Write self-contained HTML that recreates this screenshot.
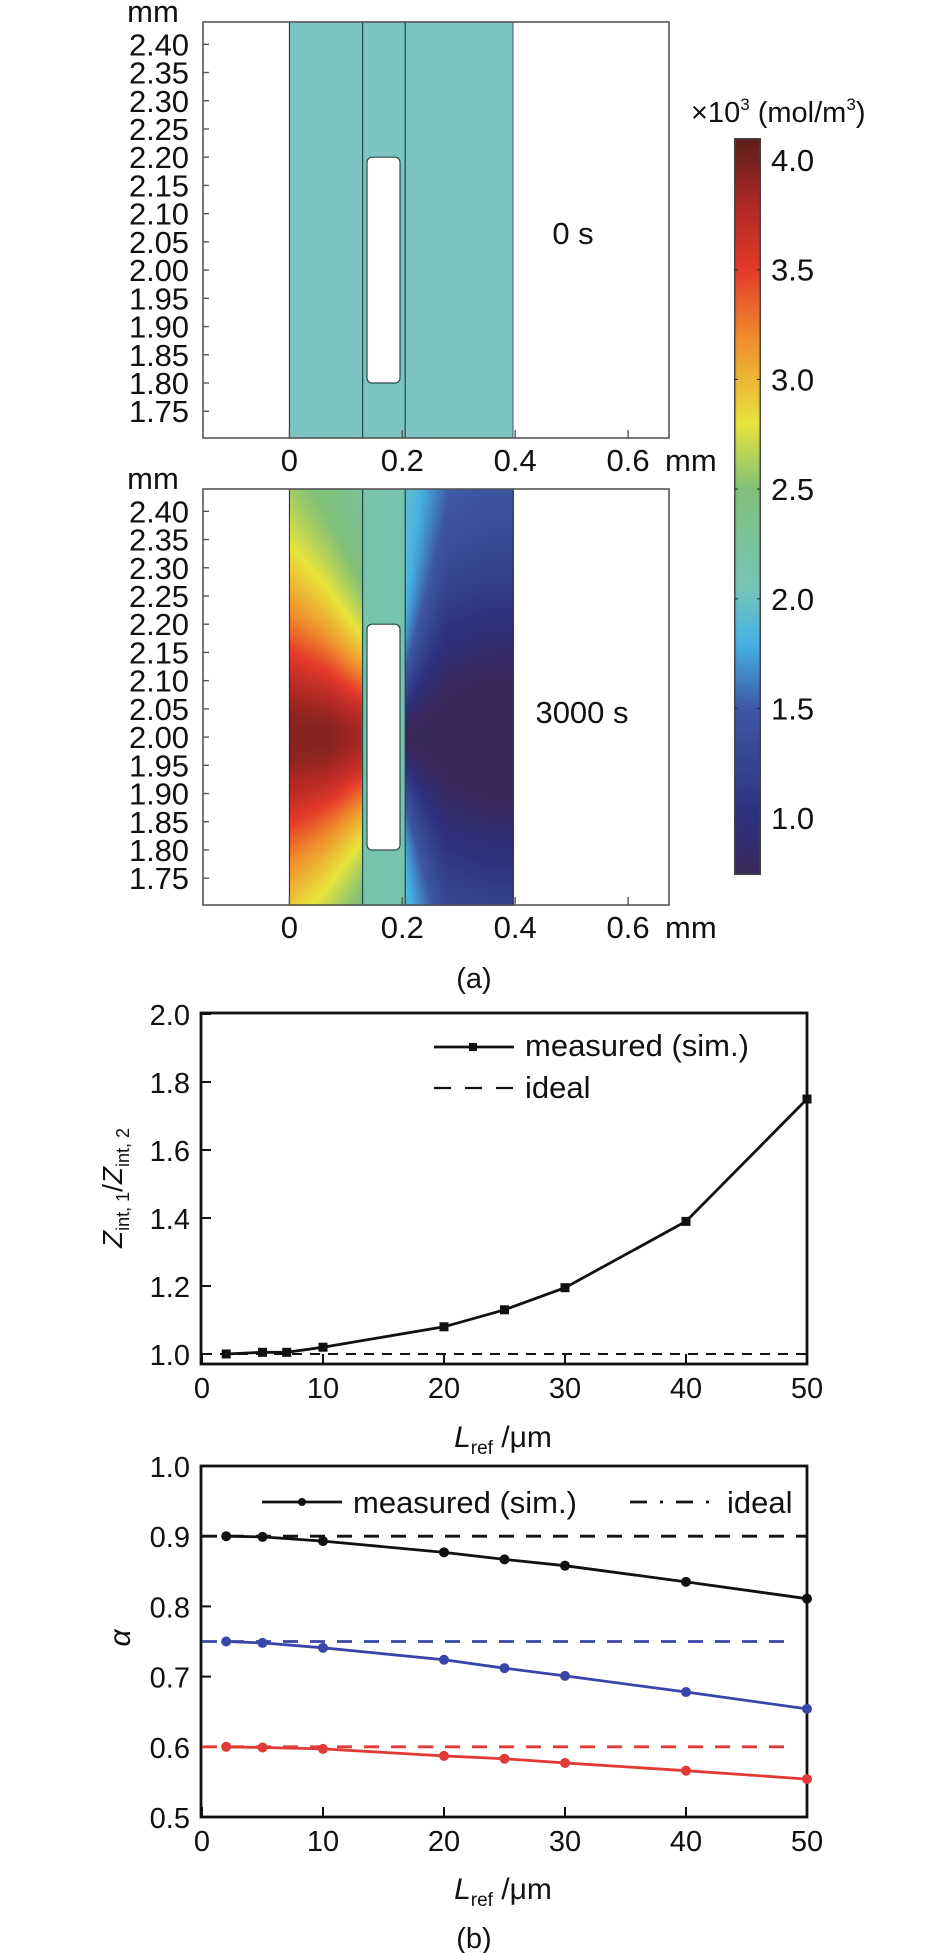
<!DOCTYPE html>
<html><head><meta charset="utf-8">
<style>
html,body{margin:0;padding:0;background:#fff;}
#root{position:relative;width:926px;height:1953px;overflow:hidden;font-family:"Liberation Sans",Arial,sans-serif;}
svg text{font-family:"Liberation Sans",Arial,sans-serif;fill:#111;}
canvas{position:absolute;}
</style></head>
<body>
<div id="root">
<canvas id="heat" width="225" height="417" style="left:289px;top:489px;"></canvas>
<canvas id="cbar" width="27" height="737" style="left:734px;top:138px;"></canvas>
<svg id="svg" width="926" height="1953" style="position:absolute;left:0;top:0"></svg>
</div>
<script>
// ---------- data ----------
const mapYTicks = ["2.40","2.35","2.30","2.25","2.20","2.15","2.10","2.05","2.00","1.95","1.90","1.85","1.80","1.75"];
const mapXTicks = [0,0.2,0.4,0.6];
const cbarTicks = [4.0,3.5,3.0,2.5,2.0,1.5,1.0];
const zX = [2,5,7,10,20,25,30,40,50];
const zY = [1.0,1.005,1.005,1.02,1.08,1.13,1.195,1.39,1.75];
const z1Ticks = [1.0,1.2,1.4,1.6,1.8,2.0];
const xTicks = [0,10,20,30,40,50];
const aX = [2,5,10,20,25,30,40,50];
const aBlack = [0.90,0.899,0.893,0.877,0.867,0.858,0.835,0.811];
const aBlue = [0.75,0.748,0.741,0.724,0.712,0.701,0.678,0.654];
const aRed = [0.60,0.599,0.597,0.587,0.583,0.577,0.566,0.554];
const aIdeal = [0.9,0.75,0.6];
const aTicks = [0.5,0.6,0.7,0.8,0.9,1.0];

const NS="http://www.w3.org/2000/svg";
const svg=document.getElementById('svg');
function el(tag,attrs,parent){const e=document.createElementNS(NS,tag);for(const k in attrs)e.setAttribute(k,attrs[k]);(parent||svg).appendChild(e);return e;}
function txt(s,x,y,size,anchor,parent){const t=el('text',{x:x,y:y,'font-size':size,'text-anchor':anchor||'middle'},parent);t.textContent=s;return t;}

// colormap
const cstops=[[0.74,[58,40,90]],[1.0,[45,48,125]],[1.5,[62,88,165]],[1.8,[70,178,228]],[2.05,[118,196,184]],[2.5,[128,192,120]],[2.8,[232,228,60]],[3.2,[240,138,44]],[3.5,[228,58,42]],[3.8,[175,40,36]],[4.1,[92,30,26]]];
function cmap(v){if(v<=cstops[0][0])return cstops[0][1];for(let i=1;i<cstops.length;i++){if(v<=cstops[i][0]){const a=cstops[i-1],b=cstops[i];const t=(v-a[0])/(b[0]-a[0]);return a[1].map((c,j)=>Math.round(c+(b[1][j]-c)*t));}}return cstops[cstops.length-1][1];}

// ---------- map panels ----------
const PXMM=564.5;
function mapPanel(off,label,name){
  const g=el('g',{});
  
  
  const Yp=v=>44.3+off+(2.40-v)*PXMM;
  const Xp=v=>289.4+v*PXMM;
  if(off===0){
    const r=el('rect',{x:289.4,y:22,width:223.6,height:416,fill:'#7cc4c1'},g);
    
  }
  el('line',{x1:289.4,y1:22+off,x2:289.4,y2:438+off,stroke:'#223',"stroke-width":1},g);
  el('line',{x1:513,y1:22+off,x2:513,y2:438+off,stroke:'#335','stroke-width':0.8},g);
  el('line',{x1:362.6,y1:22+off,x2:362.6,y2:438+off,stroke:'#1e4a48','stroke-width':1.2},g);
  el('line',{x1:405.2,y1:22+off,x2:405.2,y2:438+off,stroke:'#1e4a48','stroke-width':1.2},g);
  const hole=el('rect',{x:367,y:Yp(2.20),width:33,height:Yp(1.80)-Yp(2.20),rx:5,fill:'#fff',stroke:'#2a4a48','stroke-width':1.2},g);
  
  el('rect',{x:203,y:22+off,width:466,height:416,fill:'none',stroke:'#555','stroke-width':1.6},g);
  mapYTicks.forEach(s=>{const y=Yp(parseFloat(s));el('line',{x1:203,y1:y,x2:209,y2:y,stroke:'#555','stroke-width':1.4},g);
    const t=txt(s,189,y+11,31,'end',g);t.setAttribute('textLength','60');});
  mapXTicks.forEach(v=>{const x=Xp(v);el('line',{x1:x,y1:438+off,x2:x,y2:430+off,stroke:'#555','stroke-width':1.4},g);
    const t=txt(v===0?'0':v.toFixed(1),x,471+off,31,'middle',g);});
  txt('mm',665,471+off,31,'start',g);
  txt('mm',153,22+off,31,'middle',g);
  const l=txt(label,off===0?573:582,off===0?244:723,31,'middle',g);
}
mapPanel(0,'0 s','map-panel-0s');
mapPanel(467,'3000 s','map-panel-3000s');
txt('(a)',474,988,29,'middle');

// heatmap canvas
(function(){
  const cv=document.getElementById('heat'),ctx=cv.getContext('2d');
  const W=cv.width,H=cv.height,img=ctx.createImageData(W,H);
  for(let py=0;py<H;py++){
    const ymm=2.40-((py+489)-(44.3+467))/PXMM;
    for(let px=0;px<W;px++){
      const x=(px)/PXMM;
      const dy=Math.abs(ymm-2.0);
      let c;
      if(x<0.129){
        const den=0.15+0.9*(0.13-x);
        const t=dy/den;
        c=2.1+1.85/(1+t*t)*(0.93+0.07*Math.min(1,(0.13-x)/0.06));
      } else if(x<0.204){
        c=2.15-0.4*(x-0.129);
      } else {
        const den=0.095+2.7*Math.min(x-0.204,0.076);
        const t=dy/den;
        c=2.0-1.25/(1+t*t)-0.15*Math.min(1,(x-0.204)/0.15);
      }
      const col=cmap(c);const i=(py*W+px)*4;
      img.data[i]=col[0];img.data[i+1]=col[1];img.data[i+2]=col[2];img.data[i+3]=255;
    }
  }
  ctx.putImageData(img,0,0);
})();
// colorbar canvas
(function(){
  const cv=document.getElementById('cbar'),ctx=cv.getContext('2d');
  for(let py=0;py<cv.height;py++){const v=4.1-py/219.4;const c=cmap(v);ctx.fillStyle='rgb('+c+')';ctx.fillRect(0,py,cv.width,1);}
  ctx.strokeStyle='#444';ctx.lineWidth=1.5;ctx.strokeRect(0.75,0.75,cv.width-1.5,cv.height-1.5);
})();
cbarTicks.forEach(v=>{const y=160+(4.0-v)*219.4;
  el('line',{x1:734,y1:y,x2:738,y2:y,stroke:'#333','stroke-width':1.2});
  el('line',{x1:757,y1:y,x2:761,y2:y,stroke:'#333','stroke-width':1.2});
  const t=txt(v.toFixed(1),771,y+11,31,'start');});
(function(){const t=el('text',{x:691,y:122,'font-size':29,'text-anchor':'start'});
t.innerHTML='×10<tspan font-size="17" dy="-12">3</tspan><tspan dy="12"> (mol/m</tspan><tspan font-size="17" dy="-12">3</tspan><tspan dy="12">)</tspan>';})();

// ---------- chart 1 ----------
const X=v=>202+v*12.1;
const Y1=v=>1354-(v-1)*340;
const Y2=v=>1817-(v-0.5)*702;
function frame(top,bottom,name){const r=el('rect',{x:201,y:top,width:606,height:bottom-top,fill:'none',stroke:'#111','stroke-width':2.8});}
frame(1013,1364,'chart1-frame');
z1Ticks.forEach(v=>{const y=Y1(v);el('line',{x1:201,y1:y,x2:211,y2:y,stroke:'#111','stroke-width':2});
  const t=txt(v.toFixed(1),190,y+11,29,'end');});
xTicks.forEach(v=>{const x=X(v);el('line',{x1:x,y1:1364,x2:x,y2:1354,stroke:'#111','stroke-width':2});
  const t=txt(String(v),x,1398,29);});
{const l=el('line',{x1:X(0),y1:Y1(1),x2:X(50),y2:Y1(1),stroke:'#111','stroke-width':2,'stroke-dasharray':'10,8'});}
{const p=el('polyline',{points:zX.map((x,i)=>X(x)+','+Y1(zY[i])).join(' '),fill:'none',stroke:'#111','stroke-width':2.8});}
zX.forEach((x,i)=>{const m=el('rect',{x:X(x)-4.5,y:Y1(zY[i])-4.5,width:9,height:9,fill:'#111'});});
el('line',{x1:434,y1:1047,x2:514,y2:1047,stroke:'#111','stroke-width':2.8});
el('rect',{x:469,y:1043,width:8,height:8,fill:'#111'});
txt('measured (sim.)',525,1056,31,'start');
el('line',{x1:434,y1:1088,x2:514,y2:1088,stroke:'#111','stroke-width':2.2,'stroke-dasharray':'17,14'});
txt('ideal',525,1098,31,'start');
(function(){const t=el('text',{x:0,y:0,'font-size':28,'text-anchor':'middle',transform:'translate(122,1188) rotate(-90)'});
t.innerHTML='<tspan font-style="italic">Z</tspan><tspan font-size="18" dy="7">int, 1</tspan><tspan dy="-7">/</tspan><tspan font-style="italic">Z</tspan><tspan font-size="18" dy="7">int, 2</tspan>';})();
function xtitle(y,name){const t=el('text',{x:503,y:y,'font-size':30,'text-anchor':'middle'});
t.innerHTML='<tspan font-style="italic">L</tspan><tspan font-size="19" dy="7">ref</tspan><tspan dy="-7"> /μm</tspan>';}
xtitle(1447,'x-axis-title-1');

// ---------- chart 2 ----------
frame(1466,1817,'chart2-frame');
aTicks.forEach(v=>{const y=Y2(v);el('line',{x1:201,y1:y,x2:211,y2:y,stroke:'#111','stroke-width':2});
  const t=txt(v.toFixed(1),190,y+11,29,'end');});
xTicks.forEach(v=>{const x=X(v);el('line',{x1:x,y1:1817,x2:x,y2:1807,stroke:'#111','stroke-width':2});
  const t=txt(String(v),x,1851,29);});
const colors=['#111','#3a45a8','#e23a36'];
[aBlack,aBlue,aRed].forEach((s,k)=>{
  const d=el('line',{x1:X(0),y1:Y2(aIdeal[k]),x2:k===0?X(50):X(48.5),y2:Y2(aIdeal[k]),stroke:colors[k],'stroke-width':2.8,'stroke-dasharray':'15,12'});
  
  const p=el('polyline',{points:aX.map((x,i)=>X(x)+','+Y2(s[i])).join(' '),fill:'none',stroke:colors[k],'stroke-width':2.8});
  
  aX.forEach((x,i)=>{const c=el('circle',{cx:X(x),cy:Y2(s[i]),r:5,fill:colors[k]});});
});
el('line',{x1:262,y1:1502,x2:342,y2:1502,stroke:'#111','stroke-width':2.8});
el('circle',{cx:302,cy:1502,r:4,fill:'#111'});
txt('measured (sim.)',353,1513,31,'start');
el('line',{x1:630,y1:1502,x2:710,y2:1502,stroke:'#111','stroke-width':2.8,'stroke-dasharray':'17,13,3,13'});
txt('ideal',727,1513,31,'start');
{const t=el('text',{x:0,y:0,'font-size':30,'font-style':'italic','text-anchor':'middle',transform:'translate(130,1638) rotate(-90)'});t.textContent='α';}
xtitle(1899,'x-axis-title-2');
txt('(b)',474,1948,29);
</script>
</body></html>
